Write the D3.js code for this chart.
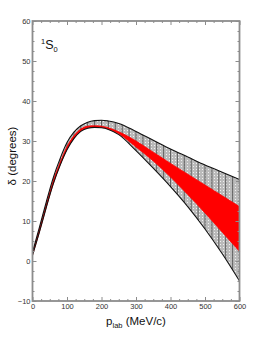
<!DOCTYPE html>
<html>
<head>
<meta charset="utf-8">
<script src="https://cdn.jsdelivr.net/npm/d3@7"></script>
<style>
body { margin:0; background:#fff; }
text { font-family: "Liberation Sans", Arial, sans-serif; }
</style>
</head>
<body>
<script>
// momentum grid (MeV/c) and phase shift bands (degrees)
var pLab     = [0, 20, 40, 60, 80, 100, 120, 140, 160, 180, 200, 220, 250, 300, 350, 400, 450, 500, 550, 600];
var outerHi  = [2.2, 8.4, 14.8, 20.8, 25.6, 29.6, 32.2, 33.8, 34.7, 35.1, 35.2, 35.0, 34.4, 32.4, 30.2, 28.0, 26.0, 24.0, 22.2, 20.4];
var outerLo  = [1.4, 7.2, 13.4, 19.2, 23.9, 27.8, 30.6, 32.4, 33.2, 33.4, 33.3, 32.9, 31.6, 27.6, 23.2, 18.6, 13.6, 8.0, 1.8, -5.0];
var redHi    = [1.9, 7.8, 14.0, 20.0, 24.6, 28.6, 31.3, 33.0, 33.7, 33.8, 33.7, 33.3, 32.3, 30.0, 27.2, 24.4, 21.7, 19.0, 16.3, 13.6];
var redLo    = [1.5, 7.3, 13.5, 19.3, 24.0, 27.9, 30.7, 32.5, 33.3, 33.5, 33.4, 33.0, 31.8, 28.5, 25.0, 21.0, 16.6, 12.0, 7.2, 2.4];

var xTicks = [0, 100, 200, 300, 400, 500, 600];
var yTicks = [-10, 0, 10, 20, 30, 40, 50, 60];

var width = 274, height = 355;
var svg = d3.select("body").append("svg")
            .attr("width", width)
            .attr("height", height);

var x = d3.scaleLinear().domain([0, 600]).range([32.5, 239.5]);
var y = d3.scaleLinear().domain([-10, 60]).range([301, 21]);

var rows = pLab.map(function(p, i) {
  return {p: p, oh: outerHi[i], ol: outerLo[i], rh: redHi[i], rl: redLo[i]};
});

var defs = svg.append("defs");
var pat = defs.append("pattern")
              .attr("id", "dots")
              .attr("patternUnits", "userSpaceOnUse")
              .attr("width", 3).attr("height", 3);
pat.append("rect").attr("width", 3).attr("height", 3).attr("fill", "#bababa");
pat.append("rect").attr("x", 1).attr("y", 1).attr("width", 1).attr("height", 1).attr("fill", "#f0f0f0");

var outerArea = d3.area()
    .x(function(d) { return x(d.p); })
    .y0(function(d) { return y(d.ol); })
    .y1(function(d) { return y(d.oh); })
    .curve(d3.curveMonotoneX);

defs.append("clipPath").attr("id", "bandClip")
    .append("path").datum(rows).attr("d", outerArea);

// hatched outer band
svg.append("path").datum(rows)
   .attr("d", outerArea)
   .attr("fill", "url(#dots)");

svg.append("g").attr("clip-path", "url(#bandClip)")
   .selectAll("line")
   .data(d3.range(0, 601, 20))
   .enter().append("line")
   .attr("x1", function(d) { return x(d); })
   .attr("x2", function(d) { return x(d); })
   .attr("y1", y(60)).attr("y2", y(-10))
   .attr("stroke", "#555")
   .attr("stroke-width", 0.9);

var lineHi = d3.line().x(function(d) { return x(d.p); }).y(function(d) { return y(d.oh); }).curve(d3.curveMonotoneX);
var lineLo = d3.line().x(function(d) { return x(d.p); }).y(function(d) { return y(d.ol); }).curve(d3.curveMonotoneX);

// red band
svg.append("path").datum(rows)
   .attr("d", d3.area()
      .x(function(d) { return x(d.p); })
      .y0(function(d) { return y(d.rl); })
      .y1(function(d) { return y(d.rh); })
      .curve(d3.curveMonotoneX))
   .attr("fill", "#ff0000")
   .attr("stroke", "#ff0000")
   .attr("stroke-width", 0.8);

svg.append("path").datum(rows).attr("d", lineHi)
   .attr("fill", "none").attr("stroke", "#111").attr("stroke-width", 1.1);
svg.append("path").datum(rows).attr("d", lineLo)
   .attr("fill", "none").attr("stroke", "#111").attr("stroke-width", 1.1);

// axes, ticks inward on all four sides
var axisColor = "#8c8c8c";
function styleAxis(g) {
  g.select(".domain").remove();
  g.selectAll("line").attr("stroke", axisColor).attr("stroke-width", 1);
  g.selectAll("text").attr("fill", "#333").style("font-size", "7.5px");
}

var minorX = d3.range(0, 601, 25).filter(function(v) { return v % 100 !== 0; });
var minorY = d3.range(-10, 61, 2.5).filter(function(v) { return v % 10 !== 0; });

svg.append("g").attr("transform", "translate(0,301)")
   .call(d3.axisBottom(x).tickValues(xTicks).tickSize(-4).tickPadding(3)).call(styleAxis);
svg.append("g").attr("transform", "translate(0,301)")
   .call(d3.axisBottom(x).tickValues(minorX).tickSize(-2).tickFormat("")).call(styleAxis);
svg.append("g").attr("transform", "translate(0,21)")
   .call(d3.axisTop(x).tickValues(xTicks).tickSize(-4).tickFormat("")).call(styleAxis);
svg.append("g").attr("transform", "translate(0,21)")
   .call(d3.axisTop(x).tickValues(minorX).tickSize(-2).tickFormat("")).call(styleAxis);

svg.append("g").attr("transform", "translate(32.5,0)")
   .call(d3.axisLeft(y).tickValues(yTicks).tickSize(-4).tickPadding(2)).call(styleAxis);
svg.append("g").attr("transform", "translate(32.5,0)")
   .call(d3.axisLeft(y).tickValues(minorY).tickSize(-2).tickFormat("")).call(styleAxis);
svg.append("g").attr("transform", "translate(239.5,0)")
   .call(d3.axisRight(y).tickValues(yTicks).tickSize(-4).tickFormat("")).call(styleAxis);
svg.append("g").attr("transform", "translate(239.5,0)")
   .call(d3.axisRight(y).tickValues(minorY).tickSize(-2).tickFormat("")).call(styleAxis);

// frame
svg.append("rect")
   .attr("x", 32.5).attr("y", 21)
   .attr("width", 207).attr("height", 280)
   .attr("fill", "none")
   .attr("stroke", axisColor)
   .attr("stroke-width", 1.8);

// labels
var ylab = svg.append("text")
   .attr("transform", "translate(16,156) rotate(-90)")
   .attr("text-anchor", "middle")
   .style("font-size", "11.5px")
   .attr("fill", "#111");
ylab.text("δ (degrees)");

var xlab = svg.append("text")
   .attr("x", 136).attr("y", 325)
   .attr("text-anchor", "middle")
   .style("font-size", "11.5px")
   .attr("fill", "#111");
xlab.append("tspan").text("p");
xlab.append("tspan").attr("dy", 3).style("font-size", "7.5px").text("lab");
xlab.append("tspan").attr("dy", -3).text(" (MeV/c)");

var wave = svg.append("text")
   .attr("x", 41).attr("y", 49)
   .style("font-size", "12.5px")
   .attr("fill", "#111");
wave.append("tspan").attr("dy", -5).style("font-size", "7.5px").text("1");
wave.append("tspan").attr("dy", 5).text("S");
wave.append("tspan").attr("dy", 3).style("font-size", "7.5px").text("0");
</script>
</body>
</html>
